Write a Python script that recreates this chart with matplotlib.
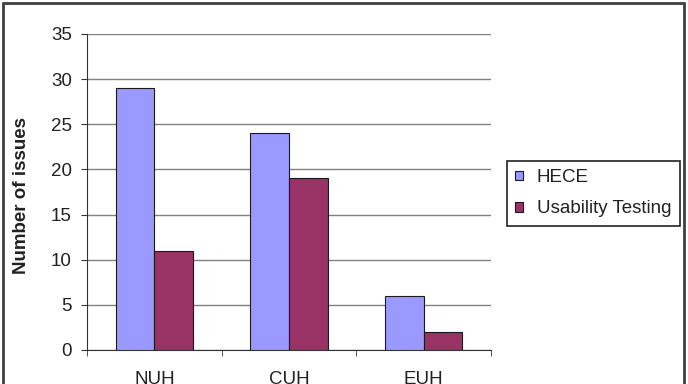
import numpy as np
import matplotlib
matplotlib.use("Agg")
import matplotlib.pyplot as plt
from matplotlib.patches import Rectangle

plt.rcParams['font.family'] = ['Liberation Sans', 'DejaVu Sans']

categories = ['NUH', 'CUH', 'EUH']
hece = [29, 24, 6]
usability = [11, 19, 2]
series_names = ['HECE', 'Usability Testing']
yticks = [0, 5, 10, 15, 20, 25, 30, 35]

fs = 13.5

fig = plt.figure(figsize=(6.88, 3.84), dpi=100)
ax = fig.add_axes([87 / 688, 34 / 384, 404 / 688, 316 / 384])

x = np.arange(len(categories))
w = 0.286
ax.bar(x - w / 2, hece, w, color='#9999FF', edgecolor='#1a1a1a', linewidth=0.8,
       label=series_names[0], zorder=3)
ax.bar(x + w / 2, usability, w, color='#993366', edgecolor='#1a1a1a', linewidth=0.8,
       label=series_names[1], zorder=3)

ax.set_xlim(-0.5, len(categories) - 0.5)
ax.set_ylim(0, 35)
ax.set_yticks(yticks)
ax.set_xticks(x)
ax.set_xticklabels(categories)
ax.set_xticks(np.arange(-0.5, len(categories), 1.0), minor=True)

ax.grid(axis='y', color='#808080', linewidth=1.0, zorder=0)
for s in ['top', 'right']:
    ax.spines[s].set_visible(False)
ax.spines['left'].set_color('#333333')
ax.spines['bottom'].set_color('#333333')

ax.tick_params(axis='y', direction='out', length=4, pad=7, labelsize=fs,
               colors='#333333', labelcolor='#222222')
ax.tick_params(axis='x', which='major', length=0, pad=15, labelsize=fs,
               labelcolor='#222222')
ax.tick_params(axis='x', which='minor', direction='out', length=4, color='#333333')

ax.set_ylabel('Number of issues', fontsize=fs, fontweight='bold', color='#222222')
ax.yaxis.set_label_coords(-0.141, 0.49)

leg = ax.legend(loc='upper left', bbox_to_anchor=(507 / 688, 1 - 161 / 384),
                bbox_transform=fig.transFigure, fancybox=False, edgecolor='#222222',
                framealpha=1, fontsize=fs, handlelength=0.4, handleheight=0.4,
                handletextpad=0.75, borderpad=0.45, labelspacing=0.75,
                borderaxespad=0)
leg.get_frame().set_linewidth(1.2)
for t in leg.get_texts():
    t.set_color('#222222')

fig.patches.append(Rectangle((2.5 / 688, -0.2), 681.5 / 688, 1.2 - 2.5 / 384,
                             transform=fig.transFigure, fill=False,
                             edgecolor='#404040', linewidth=2, clip_on=False))

fig.savefig('out.png', dpi=100)
